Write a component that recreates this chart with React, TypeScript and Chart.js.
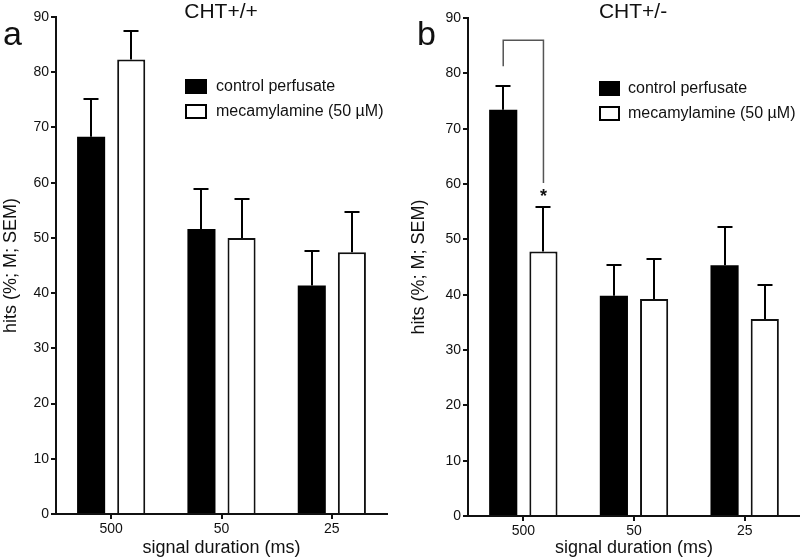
import React, { useEffect, useRef } from 'react';
import { Chart, registerables } from 'chart.js';

Chart.register(...registerables);

const FONT = '"Liberation Sans", Arial, Helvetica, sans-serif';

// ---- data ----
const categories = ['500', '50', '25'];
const seriesLabels = ['control perfusate', 'mecamylamine (50 µM)'];
const xAxisTitle = 'signal duration (ms)';
const yAxisTitle = 'hits (%; M; SEM)';
const yTickMin = 0;
const yTickMax = 90;
const yTickStep = 10;

// panel a: CHT+/+
const wtControl = [68.3, 51.6, 41.4];
const wtControlSem = [6.8, 7.3, 6.3];
const wtMeca = [82.3, 50.0, 47.4];
const wtMecaSem = [5.1, 7.1, 7.2];

// panel b: CHT+/-
const hetControl = [73.4, 39.8, 45.3];
const hetControlSem = [4.4, 5.5, 7.0];
const hetMeca = [47.8, 39.2, 35.6];
const hetMecaSem = [8.0, 7.3, 6.2];

// significance bracket in panel b (values in axis units): top, left end, right end, star
const hetBracket = [86, 81.3, 60.2];
const hetStarValue = 58.5;

type PanelSpec = {
  title: string;
  letter: string;
  control: number[];
  controlSem: number[];
  meca: number[];
  mecaSem: number[];
  bracket?: number[];
  star?: number;
  padTop: number;
  padRight: number;
  yWidth: number;
  xHeight: number;
  yTitlePad: number;
  titleX: number;
  letterX: number;
  legendX: number;
  legendY: number;
  legendW: number;
  legendTextX: number;
};

function makeOverlay(spec: PanelSpec) {
  return {
    id: 'overlay_' + spec.letter,
    afterDatasetsDraw(chart: any) {
      const ctx = chart.ctx as CanvasRenderingContext2D;
      const ys = chart.scales.y;
      ctx.save();
      ctx.strokeStyle = '#000';
      ctx.lineWidth = 2;
      const sets: [number, number[]][] = [
        [0, spec.controlSem],
        [1, spec.mecaSem],
      ];
      sets.forEach(([di, sems]) => {
        const meta = chart.getDatasetMeta(di);
        const vals = chart.data.datasets[di].data as number[];
        meta.data.forEach((bar: any, i: number) => {
          const x = Math.round(bar.x);
          const yTop = ys.getPixelForValue(vals[i]);
          const yErr = Math.round(ys.getPixelForValue(vals[i] + sems[i]));
          ctx.beginPath();
          ctx.moveTo(x, yTop);
          ctx.lineTo(x, yErr);
          ctx.moveTo(x - 7.5, yErr);
          ctx.lineTo(x + 7.5, yErr);
          ctx.stroke();
        });
      });
      if (spec.bracket) {
        const x1 = chart.getDatasetMeta(0).data[0].x;
        const x2 = chart.getDatasetMeta(1).data[0].x;
        const yT = ys.getPixelForValue(spec.bracket[0]);
        const yL = ys.getPixelForValue(spec.bracket[1]);
        const yR = ys.getPixelForValue(spec.bracket[2]);
        ctx.strokeStyle = '#555';
        ctx.lineWidth = 1.5;
        ctx.beginPath();
        ctx.moveTo(x1, yL);
        ctx.lineTo(x1, yT);
        ctx.lineTo(x2, yT);
        ctx.lineTo(x2, yR);
        ctx.stroke();
        if (spec.star !== undefined) {
          ctx.fillStyle = '#111';
          ctx.font = 'bold 18px ' + FONT;
          ctx.textAlign = 'center';
          ctx.textBaseline = 'top';
          ctx.fillText('*', x2, ys.getPixelForValue(spec.star) - 4);
        }
      }
      ctx.restore();
    },
    afterDraw(chart: any) {
      const ctx = chart.ctx as CanvasRenderingContext2D;
      ctx.save();
      ctx.fillStyle = '#111';
      // title
      ctx.font = '21px ' + FONT;
      ctx.textAlign = 'center';
      ctx.textBaseline = 'alphabetic';
      ctx.fillText(spec.title, spec.titleX, 18);
      // panel letter
      ctx.font = '34px ' + FONT;
      ctx.textAlign = 'left';
      ctx.fillText(spec.letter, spec.letterX, 45);
      // legend
      const rowGap = 25;
      const h = 15;
      for (let i = 0; i < 2; i++) {
        const by = spec.legendY + i * rowGap;
        if (i === 0) {
          ctx.fillStyle = '#000';
          ctx.fillRect(spec.legendX, by, spec.legendW, h);
        } else {
          ctx.fillStyle = '#fff';
          ctx.fillRect(spec.legendX, by, spec.legendW, h);
          ctx.strokeStyle = '#000';
          ctx.lineWidth = 2;
          ctx.strokeRect(spec.legendX + 1, by + 1, spec.legendW - 2, h - 2);
        }
        ctx.fillStyle = '#111';
        ctx.font = '16px ' + FONT;
        ctx.textBaseline = 'middle';
        ctx.fillText(seriesLabels[i], spec.legendTextX, by + h / 2 + 0.5);
      }
      ctx.restore();
    },
  };
}

function Panel({ spec }: { spec: PanelSpec }) {
  const ref = useRef<HTMLCanvasElement | null>(null);
  useEffect(() => {
    if (!ref.current) return;
    const chart = new Chart(ref.current, {
      type: 'bar',
      data: {
        labels: categories,
        datasets: [
          {
            label: seriesLabels[0],
            data: spec.control,
            backgroundColor: '#000',
            borderColor: '#000',
            borderWidth: 0,
            categoryPercentage: 0.727,
            barPercentage: 0.7,
          },
          {
            label: seriesLabels[1],
            data: spec.meca,
            backgroundColor: '#fff',
            borderColor: '#111',
            borderWidth: 2,
            categoryPercentage: 0.727,
            barPercentage: 0.7,
          },
        ],
      },
      options: {
        animation: false,
        responsive: false,
        events: [],
        layout: { padding: { top: spec.padTop, right: spec.padRight, left: 0, bottom: 0 } },
        plugins: {
          legend: { display: false },
          title: { display: false },
          tooltip: { enabled: false },
        },
        scales: {
          x: {
            type: 'category',
            offset: true,
            grid: {
              offset: false,
              drawOnChartArea: false,
              drawTicks: true,
              tickLength: 5,
              color: '#111',
              lineWidth: 2,
            },
            border: { display: true, color: '#111', width: 2 },
            ticks: {
              color: '#111',
              font: { family: FONT, size: 14 },
              padding: 2,
              maxRotation: 0,
            },
            title: {
              display: true,
              text: xAxisTitle,
              color: '#111',
              font: { family: FONT, size: 18 },
              padding: { top: 0, bottom: 0 },
            },
            afterFit: (s: any) => {
              s.height = spec.xHeight;
            },
          },
          y: {
            min: yTickMin,
            max: yTickMax,
            ticks: {
              stepSize: yTickStep,
              color: '#111',
              font: { family: FONT, size: 14 },
              padding: 2,
            },
            grid: {
              drawOnChartArea: false,
              drawTicks: true,
              tickLength: 5,
              color: '#111',
              lineWidth: 2,
            },
            border: { display: true, color: '#111', width: 2 },
            title: {
              display: true,
              text: yAxisTitle,
              color: '#111',
              font: { family: FONT, size: 18 },
              padding: { top: spec.yTitlePad, bottom: 0 },
            },
            afterFit: (s: any) => {
              s.width = spec.yWidth;
            },
          },
        },
      } as any,
      plugins: [makeOverlay(spec)],
    });
    return () => chart.destroy();
  }, [spec]);
  return <canvas ref={ref} width={400} height={559} style={{ width: 400, height: 559, display: 'block' }} />;
}

const specA: PanelSpec = {
  title: 'CHT+/+',
  letter: 'a',
  control: wtControl,
  controlSem: wtControlSem,
  meca: wtMeca,
  mecaSem: wtMecaSem,
  padTop: 17,
  padRight: 13,
  yWidth: 56,
  xHeight: 45,
  yTitlePad: 0,
  titleX: 221,
  letterX: 3,
  legendX: 185,
  legendY: 79,
  legendW: 22,
  legendTextX: 216,
};

const specB: PanelSpec = {
  title: 'CHT+/-',
  letter: 'b',
  control: hetControl,
  controlSem: hetControlSem,
  meca: hetMeca,
  mecaSem: hetMecaSem,
  bracket: hetBracket,
  star: hetStarValue,
  padTop: 18,
  padRight: 0,
  yWidth: 68,
  xHeight: 43,
  yTitlePad: 8,
  titleX: 233,
  letterX: 17,
  legendX: 199,
  legendY: 81,
  legendW: 21,
  legendTextX: 228,
};

export default function App() {
  return (
    <div style={{ position: 'absolute', left: 0, top: 0, width: 800, height: 559, display: 'flex', background: '#fff' }}>
      <Panel spec={specA} />
      <Panel spec={specB} />
    </div>
  );
}
